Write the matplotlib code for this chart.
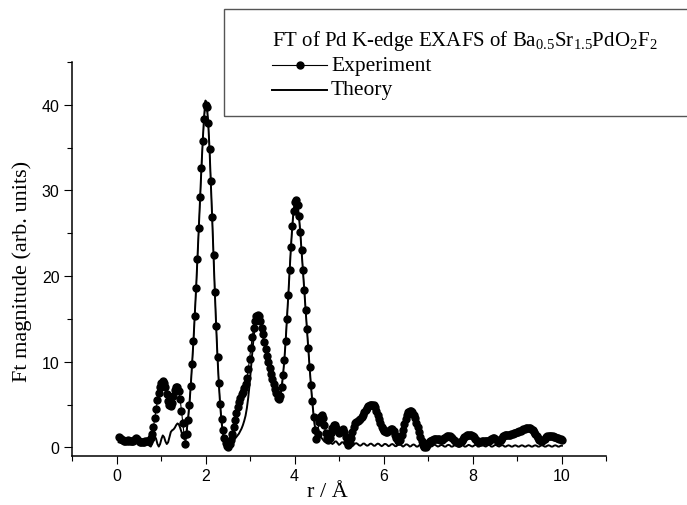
import numpy as np
import matplotlib
matplotlib.use('Agg')
import matplotlib.pyplot as plt
from matplotlib.patches import Rectangle
from matplotlib.lines import Line2D
from matplotlib.ticker import MultipleLocator

# r grid of the Fourier transform [Angstrom]
r = np.round(np.arange(0.05, 10.02, 0.03), 2)

# |FT| of the measured Pd K-edge EXAFS
exp_ft = [
    1.2, 1.1, 0.95, 0.85, 0.8, 0.75, 0.8, 0.85, 0.8, 0.7,
    0.7, 0.8, 1.0, 1.1, 1.0, 0.8, 0.65, 0.6, 0.6, 0.65,
    0.7, 0.7, 0.7, 0.8, 1.1, 1.6, 2.4, 3.4, 4.5, 5.5,
    6.4, 7.1, 7.5, 7.7, 7.5, 7.0, 6.2, 5.4, 4.9, 4.8,
    5.2, 6.0, 6.7, 7.1, 7.1, 6.6, 5.6, 4.3, 2.8, 1.4,
    0.4, 1.6, 3.2, 5.0, 7.2, 9.7, 12.4, 15.4, 18.6, 22.0,
    25.6, 29.2, 32.6, 35.8, 38.4, 40.0, 39.7, 37.9, 34.9, 31.1,
    26.9, 22.5, 18.2, 14.2, 10.6, 7.5, 5.1, 3.3, 2.0, 1.1,
    0.5, 0.2, 0.1, 0.4, 0.9, 1.6, 2.4, 3.2, 4.0, 4.7,
    5.3, 5.8, 6.2, 6.5, 6.9, 7.4, 8.1, 9.1, 10.3, 11.6,
    12.9, 14.0, 14.8, 15.3, 15.5, 15.4, 14.8, 14.0, 13.2, 12.3,
    11.5, 10.7, 10.0, 9.3, 8.6, 8.0, 7.4, 6.8, 6.3, 5.8,
    5.6, 6.0, 7.0, 8.4, 10.2, 12.4, 15.0, 17.8, 20.7, 23.4,
    25.8, 27.6, 28.6, 28.9, 28.3, 27.0, 25.2, 23.0, 20.7, 18.4,
    16.1, 13.8, 11.6, 9.4, 7.3, 5.4, 3.6, 2.0, 1.0, 1.6,
    3.0, 3.6, 3.8, 3.4, 2.6, 1.7, 1.1, 0.9, 1.1, 1.7,
    2.3, 2.6, 2.6, 2.3, 1.9, 1.7, 1.8, 2.0, 2.1, 1.8,
    1.2, 0.6, 0.3, 0.5, 1.1, 1.8, 2.4, 2.8, 3.0, 3.1,
    3.2, 3.3, 3.5, 3.8, 4.1, 4.4, 4.6, 4.8, 4.9, 5.0,
    5.0, 4.9, 4.7, 4.3, 3.8, 3.3, 2.8, 2.4, 2.1, 1.9,
    1.8, 1.8, 1.9, 2.0, 2.1, 2.1, 1.9, 1.5, 1.1, 0.8,
    0.7, 0.9, 1.4, 2.0, 2.7, 3.3, 3.8, 4.1, 4.2, 4.2,
    4.1, 3.8, 3.4, 2.9, 2.4, 1.8, 1.2, 0.7, 0.3, 0.1,
    0.1, 0.3, 0.5, 0.7, 0.8, 0.9, 1.0, 1.0, 1.0, 1.0,
    1.0, 0.9, 0.9, 1.0, 1.1, 1.2, 1.3, 1.3, 1.3, 1.2,
    1.1, 0.9, 0.7, 0.6, 0.5, 0.5, 0.6, 0.8, 1.0, 1.2,
    1.3, 1.4, 1.4, 1.4, 1.4, 1.3, 1.2, 1.0, 0.8, 0.7,
    0.6, 0.6, 0.7, 0.8, 0.8, 0.8, 0.8, 0.8, 0.9, 1.0,
    1.1, 1.1, 1.0, 0.9, 0.8, 0.8, 0.9, 1.1, 1.3, 1.4,
    1.5, 1.5, 1.5, 1.5, 1.6, 1.6, 1.7, 1.7, 1.8, 1.8,
    1.9, 1.9, 2.0, 2.1, 2.2, 2.3, 2.3, 2.3, 2.3, 2.2,
    2.0, 1.8, 1.6, 1.3, 1.1, 0.9, 0.8, 0.8, 0.9, 1.0,
    1.2, 1.3, 1.3, 1.3, 1.3, 1.3, 1.2, 1.2, 1.1, 1.1,
    1.0, 1.0, 0.9,
]

# |FT| of the fitted model
theo_ft = [
    0.6, 0.55, 0.5, 0.45, 0.5, 0.6, 0.7, 0.7, 0.6, 0.5,
    0.45, 0.5, 0.7, 0.9, 0.8, 0.6, 0.4, 0.3, 0.35, 0.5,
    0.6, 0.5, 0.35, 0.2, 0.1, 0.4, 0.9, 1.3, 1.0, 0.4,
    0.1, 0.4, 1.0, 1.4, 1.2, 0.7, 0.4, 0.6, 1.2, 1.8,
    2.0, 2.1, 2.3, 2.6, 2.8, 2.7, 2.3, 1.8, 1.3, 1.0,
    1.2, 2.1, 3.5, 5.2, 7.3, 9.8, 12.5, 15.5, 18.7, 22.1,
    25.7, 29.3, 32.8, 36.0, 38.8, 40.5, 40.0, 38.0, 34.9, 31.0,
    26.8, 22.4, 18.1, 14.1, 10.5, 7.4, 4.9, 3.0, 1.7, 0.9,
    0.4, 0.1, 0.05, 0.2, 0.4, 0.6, 0.8, 1.0, 1.2, 1.4,
    1.6, 1.9, 2.2, 2.6, 3.1, 3.7, 4.6, 5.8, 7.3, 9.1,
    11.0, 12.8, 14.2, 15.1, 15.5, 15.3, 14.8, 14.0, 13.1, 12.2,
    11.4, 10.6, 9.9, 9.2, 8.5, 7.9, 7.3, 6.7, 6.2, 5.8,
    5.6, 5.9, 6.9, 8.3, 10.1, 12.3, 14.9, 17.7, 20.6, 23.4,
    25.8, 27.7, 28.8, 29.0, 28.4, 27.0, 25.1, 22.9, 20.6, 18.3,
    16.0, 13.7, 11.5, 9.3, 7.2, 5.3, 3.7, 2.4, 1.6, 1.3,
    1.2, 1.2, 1.1, 0.9, 0.7, 0.6, 0.8, 1.0, 0.9, 0.6,
    0.4, 0.5, 0.7, 0.7, 0.5, 0.3, 0.4, 0.6, 0.6, 0.4,
    0.3, 0.4, 0.5, 0.5, 0.3, 0.2, 0.3, 0.45, 0.5, 0.4,
    0.25, 0.2, 0.3, 0.45, 0.45, 0.3, 0.2, 0.25, 0.4, 0.45,
    0.35, 0.2, 0.2, 0.35, 0.45, 0.4, 0.25, 0.15, 0.25, 0.4,
    0.4, 0.3, 0.15, 0.2, 0.35, 0.4, 0.3, 0.15, 0.15, 0.3,
    0.4, 0.35, 0.2, 0.1, 0.2, 0.35, 0.35, 0.25, 0.1, 0.15,
    0.3, 0.35, 0.25, 0.1, 0.1, 0.25, 0.35, 0.3, 0.15, 0.1,
    0.2, 0.3, 0.3, 0.2, 0.1, 0.15, 0.3, 0.3, 0.2, 0.1,
    0.15, 0.25, 0.3, 0.2, 0.1, 0.1, 0.25, 0.3, 0.25, 0.1,
    0.1, 0.2, 0.3, 0.25, 0.15, 0.1, 0.2, 0.3, 0.25, 0.1,
    0.1, 0.2, 0.3, 0.25, 0.15, 0.1, 0.2, 0.3, 0.25, 0.1,
    0.1, 0.2, 0.3, 0.25, 0.15, 0.1, 0.2, 0.3, 0.25, 0.1,
    0.1, 0.2, 0.3, 0.25, 0.15, 0.1, 0.2, 0.25, 0.25, 0.1,
    0.1, 0.2, 0.25, 0.2, 0.1, 0.1, 0.2, 0.25, 0.2, 0.1,
    0.1, 0.2, 0.25, 0.2, 0.1, 0.1, 0.2, 0.25, 0.2, 0.1,
    0.1, 0.2, 0.25, 0.2, 0.1, 0.1, 0.2, 0.25, 0.2, 0.1,
    0.1, 0.2, 0.25, 0.2, 0.1, 0.1, 0.2, 0.25, 0.2, 0.1,
    0.1, 0.2, 0.2,
]

titulo = r'FT of Pd K-edge EXAFS of Ba$_\mathregular{0.5}$Sr$_\mathregular{1.5}$PdO$_\mathregular{2}$F$_\mathregular{2}$'
serif = 'Liberation Serif'

plt.rcParams['font.family'] = ['Liberation Sans', 'DejaVu Sans']

W, H = 687, 506
fig = plt.figure(figsize=(W / 100, H / 100), dpi=100)
ax = fig.add_axes([72 / W, (H - 457) / H, (606 - 72) / W, (457 - 63) / H])

ax.plot(r, exp_ft, '-o', color='k', lw=0.8, ms=5, zorder=2)
ax.plot(r, theo_ft, '-', color='k', lw=1.4, zorder=3)

ax.set_xlim(-1, 11)
ax.set_ylim(-1, 45)
ax.xaxis.set_major_locator(MultipleLocator(2))
ax.xaxis.set_minor_locator(MultipleLocator(1))
ax.yaxis.set_major_locator(MultipleLocator(10))
ax.yaxis.set_minor_locator(MultipleLocator(5))
ax.tick_params(which='major', direction='out', length=6, width=0.8, labelsize=11.5, pad=3)
ax.tick_params(which='minor', direction='out', length=3.5, width=0.8)
for lado in ['top', 'right']:
    ax.spines[lado].set_visible(False)
for lado in ['left', 'bottom']:
    ax.spines[lado].set_linewidth(1.1)

ax.set_xlabel('r / Å', fontsize=16, fontfamily=serif)
ax.set_ylabel('Ft magnitude (arb. units)', fontsize=16, fontfamily=serif)
ax.xaxis.set_label_coords(0.478, -0.066)
ax.yaxis.set_label_coords(-0.075, 0.47)

# caixa da legenda (sai pela borda direita)
caixa = Rectangle((224 / W, 1 - 117 / H), (720 - 224) / W, 107 / H,
                  transform=fig.transFigure, fill=False, edgecolor='#555555',
                  lw=1.0, clip_on=False)
fig.patches.append(caixa)

fig.text(272 / W, 1 - 41 / H, titulo, fontsize=15, fontfamily=serif, va='center')
y_exp = 1 - 66 / H
y_teo = 1 - 91 / H
fig.lines.append(Line2D([272 / W, 327 / W], [y_exp, y_exp], color='k', lw=0.8,
                        transform=fig.transFigure))
fig.lines.append(Line2D([299.5 / W], [y_exp], marker='o', ms=5, color='k',
                        transform=fig.transFigure))
fig.lines.append(Line2D([272 / W, 327 / W], [y_teo, y_teo], color='k', lw=1.4,
                        transform=fig.transFigure))
fig.text(331 / W, y_exp, 'Experiment', fontsize=15.5, fontfamily=serif, va='center')
fig.text(331 / W, y_teo, 'Theory', fontsize=15.5, fontfamily=serif, va='center')

fig.savefig('out.png', dpi=100)
